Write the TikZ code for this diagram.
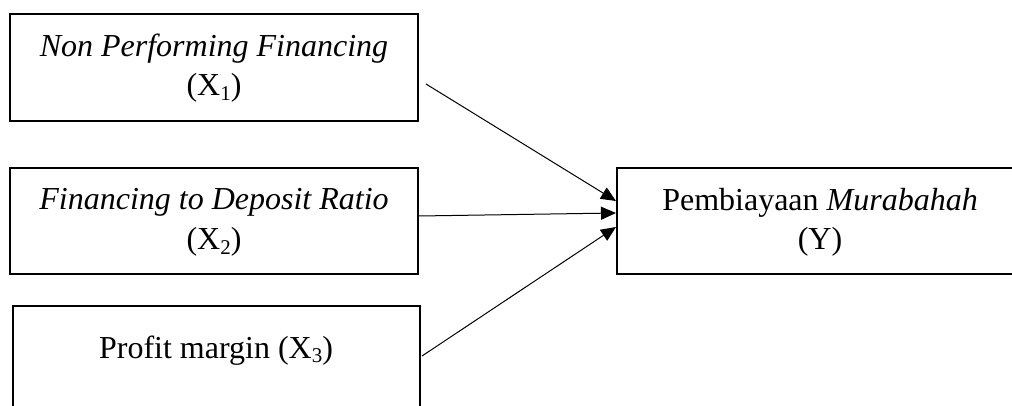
\documentclass[tikz,border=0pt]{standalone}
\usepackage{fontspec}
\setmainfont{Liberation Serif}
\usetikzlibrary{arrows.meta,calc}
\newcommand{\sbs}[1]{\raisebox{-0.14em}{\fontsize{21}{21}\selectfont #1}}
\begin{document}
\begin{tikzpicture}[x=1pt,y=-1pt,
  box/.style={draw, line width=2pt, inner sep=0pt},
  txt/.style={anchor=base, inner sep=0pt, font=\fontsize{32}{38}\selectfont},
  arr/.style={line width=1pt, -{Triangle[length=15pt,width=13pt]}}]
\useasboundingbox (0,0) rectangle (1012,406);
\clip (0,0) rectangle (1012,406);
% boxes
\node[box, minimum width=408pt, minimum height=107pt] (b1) at (214,67.5) {};
\node[box, minimum width=408pt, minimum height=106pt] (b2) at (214,221) {};
\node[box, minimum width=407pt, minimum height=104pt] (b3) at (216.5,358) {};
\node[box, minimum width=406pt, minimum height=106pt] (yb) at (820,221) {};
% texts
\node[txt] (t1a) at (214,57) {\textit{Non Performing Financing}};
\node[txt] (t1b) at (214,96) {(X\sbs{1})};
\node[txt] (t2a) at (214,210) {\textit{Financing to Deposit Ratio}};
\node[txt] (t2b) at (214,250) {(X\sbs{2})};
\node[txt] (t3) at (216,358) {Profit margin (X\sbs{3})};
\node[txt] (tya) at (820,211) {Pembiayaan \textit{Murabahah}};
\node[txt] (tyb) at (820,250) {(Y)};
% connector ends
\coordinate (s1) at ($(b1.east)+(7,16.5)$);
\coordinate (s2) at ($(b2.east)+(0,-5)$);
\coordinate (s3) at ($(b3.east)+(1,-2)$);
\coordinate (e1) at ($(yb.west)+(0,-20)$);
\coordinate (e2) at ($(yb.west)+(0,-8)$);
\coordinate (e3) at ($(yb.west)+(0,6)$);
\draw[arr] (s1) -- (e1);
\draw[arr] (s2) -- (e2);
\draw[arr] (s3) -- (e3);
\end{tikzpicture}
\end{document}
